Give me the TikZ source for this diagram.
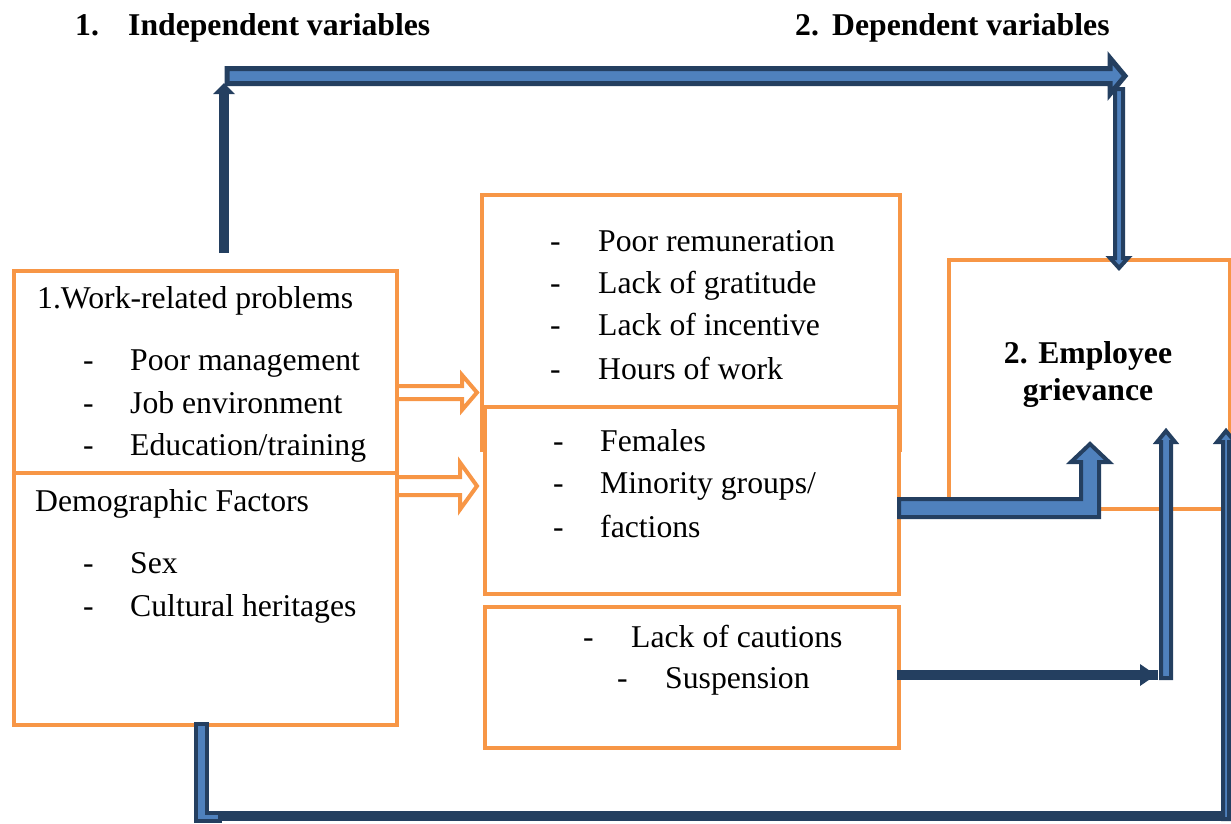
\documentclass[tikz,border=0pt]{standalone}
\usepackage{fontspec}
\setmainfont{Liberation Serif}
\usetikzlibrary{calc}
\definecolor{orng}{HTML}{F79646}
\definecolor{dkb}{HTML}{243F60}
\definecolor{blu}{HTML}{4F81BD}
\begin{document}
\begin{tikzpicture}[x=1pt,y=-1pt,
  box/.style={draw=orng, line width=4pt, fill=white, inner sep=0pt, anchor=north west},
  txt/.style={anchor=base west, inner sep=0pt, font=\fontsize{31.7}{38}\selectfont},
  btxt/.style={anchor=base west, inner sep=0pt, font=\fontsize{31.7}{38}\selectfont\bfseries},
  blk/.style={fill=blu, draw=dkb, line join=miter},
  hollow/.style={draw=orng, line width=4pt, line join=miter},
  dline/.style={draw=dkb, line width=10pt}]
\useasboundingbox (0,0) rectangle (1231,823);

% headings
\node[btxt] (h1n) at (75,35) {1.};
\node[btxt] (h1) at (128,35) {Independent variables};
\node[btxt] (h2n) at (795,35) {2.};
\node[btxt] (h2) at (832,35) {Dependent variables};

% boxes
\node[box, minimum width=383pt, minimum height=231pt] (work) at (12,269) {};
\node[box, minimum width=383pt, minimum height=252pt] (demo) at (12,471) {};
\node[box, minimum width=418pt, minimum height=255pt] (mid1) at (480,193) {};
\node[box, minimum width=414pt, minimum height=187pt] (mid2) at (483,405) {};
\node[box, minimum width=414pt, minimum height=141pt] (mid3) at (483,605) {};
\node[box, minimum width=281pt, minimum height=249pt] (rbox) at (947,258) {};

% left texts
\node[txt] (w0) at (37,308) {1.Work-related problems};
\node[txt] (wd1) at (83,370) {-};
\node[txt] (w1) at (130,370) {Poor management};
\node[txt] (wd2) at (83,413) {-};
\node[txt] (w2) at (130,413) {Job environment};
\node[txt] (wd3) at (83,455) {-};
\node[txt] (w3) at (130,455) {Education/training};
\node[txt] (d0) at (35,511) {Demographic Factors};
\node[txt] (dd1) at (83,573) {-};
\node[txt] (d1) at (130,573) {Sex};
\node[txt] (dd2) at (83,616) {-};
\node[txt] (d2) at (130,616) {Cultural heritages};

% middle texts
\node[txt] (ad1) at (550,251) {-};
\node[txt] (a1) at (598,251) {Poor remuneration};
\node[txt] (ad2) at (550,293) {-};
\node[txt] (a2) at (598,293) {Lack of gratitude};
\node[txt] (ad3) at (550,335) {-};
\node[txt] (a3) at (598,335) {Lack of incentive};
\node[txt] (ad4) at (550,379) {-};
\node[txt] (a4) at (598,379) {Hours of work};
\node[txt] (bd1) at (553,451) {-};
\node[txt] (b1) at (600,451) {Females};
\node[txt] (bd2) at (553,493) {-};
\node[txt] (b2) at (600,493) {Minority groups/};
\node[txt] (bd3) at (553,537) {-};
\node[txt] (b3) at (600,537) {factions};
\node[txt] (cd1) at (583,647) {-};
\node[txt] (c1) at (631,647) {Lack of cautions};
\node[txt] (cd2) at (617,688) {-};
\node[txt] (c2) at (665,688) {Suspension};

% right text
\node[btxt, anchor=base] (eg1) at (1088,363) {2. Employee};
\node[btxt, anchor=base] (eg2) at (1088,400) {grievance};

% hollow arrows
\coordinate (ho1s) at (397,392.5);
\coordinate (ho1e) at (477,392.5);
\draw[hollow] ($(ho1s)+(0,-6.5)$) -- ($(ho1e)+(-15,-6.5)$) -- ($(ho1e)+(-15,-17.5)$) -- (ho1e)
  -- ($(ho1e)+(-15,17.5)$) -- ($(ho1e)+(-15,6.5)$) -- ($(ho1s)+(0,6.5)$);
\coordinate (ho2s) at (397,486);
\coordinate (ho2e) at (477,486);
\draw[hollow] ($(ho2s)+(0,-9)$) -- ($(ho2e)+(-17,-9)$) -- ($(ho2e)+(-17,-23.5)$) -- (ho2e)
  -- ($(ho2e)+(-17,23.5)$) -- ($(ho2e)+(-17,9)$) -- ($(ho2s)+(0,9)$);

% top-left vertical arrow
\coordinate (v1s) at (224,253);
\coordinate (v1e) at (224,83);
\draw[dline] (v1s) -- ($(v1e)+(0,10)$);
\fill[dkb] ($(v1e)+(-11,11)$) -- (v1e) -- ($(v1e)+(11,11)$) -- cycle;

% top horizontal block arrow
\coordinate (tS) at (227,76);
\coordinate (tE) at (1125,76);
\filldraw[blk, line width=5pt] ($(tS)+(0,-7.5)$) -- ($(tE)+(-15,-7.5)$) -- ($(tE)+(-15,-18)$) -- (tE)
  -- ($(tE)+(-15,18)$) -- ($(tE)+(-15,7.5)$) -- ($(tS)+(0,7.5)$) -- cycle;

% right down arrow
\coordinate (dS) at (1119,89);
\coordinate (dE) at (1119,268);
\filldraw[blk, line width=4pt] ($(dS)+(-4,0)$) -- ($(dE)+(-4,-10)$) -- ($(dE)+(-9,-10)$) -- (dE)
  -- ($(dE)+(9,-10)$) -- ($(dE)+(4,-10)$) -- ($(dS)+(4,0)$) -- cycle;

% L block arrow
\coordinate (lS) at (899,508);
\coordinate (lC) at (1090,508);
\coordinate (lE) at (1090,444);
\filldraw[blk, line width=4pt] ($(lS)+(0,-9)$) -- ($(lC)+(-9,-9)$) -- ($(lE)+(-9,18)$) -- ($(lE)+(-19,18)$) -- (lE)
  -- ($(lE)+(19,18)$) -- ($(lE)+(9,18)$) -- ($(lC)+(9,9)$) -- ($(lS)+(0,9)$) -- cycle;

% middle bottom arrow
\coordinate (mS) at (897,675);
\coordinate (mC) at (1166,675);
\coordinate (mE) at (1166,431);
\draw[dline] (mS) -- ($(mC)+(-8,0)$);
\fill[dkb] ($(mC)+(-26,-11)$) -- ($(mC)+(-10,0)$) -- ($(mC)+(-26,11)$) -- cycle;
\filldraw[blk, line width=4pt] ($(mC)+(-5,3)$) -- ($(mE)+(-5,11)$) -- ($(mE)+(-9,11)$) -- (mE)
  -- ($(mE)+(9,11)$) -- ($(mE)+(5,11)$) -- ($(mC)+(5,3)$) -- cycle;

% bottom arrow
\coordinate (bS) at (201.5,724);
\coordinate (bC) at (201.5,816);
\coordinate (bR) at (1226,816);
\coordinate (bE) at (1226,431);
\draw[dline] ($(bC)+(15,0)$) -- ($(bR)+(4,0)$);
\filldraw[blk, line width=4pt] ($(bS)+(-5.5,0)$) -- ($(bC)+(-5.5,5)$) -- ($(bC)+(18,5)$) -- ($(bC)+(18,-3)$)
  -- ($(bC)+(5.5,-3)$) -- ($(bS)+(5.5,0)$) -- cycle;
\filldraw[blk, line width=4pt] ($(bR)+(-3,3)$) -- ($(bE)+(-3,11)$) -- ($(bE)+(-9,11)$) -- (bE)
  -- ($(bE)+(9,11)$) -- ($(bE)+(3,11)$) -- ($(bR)+(3,3)$) -- cycle;
\end{tikzpicture}
\end{document}
